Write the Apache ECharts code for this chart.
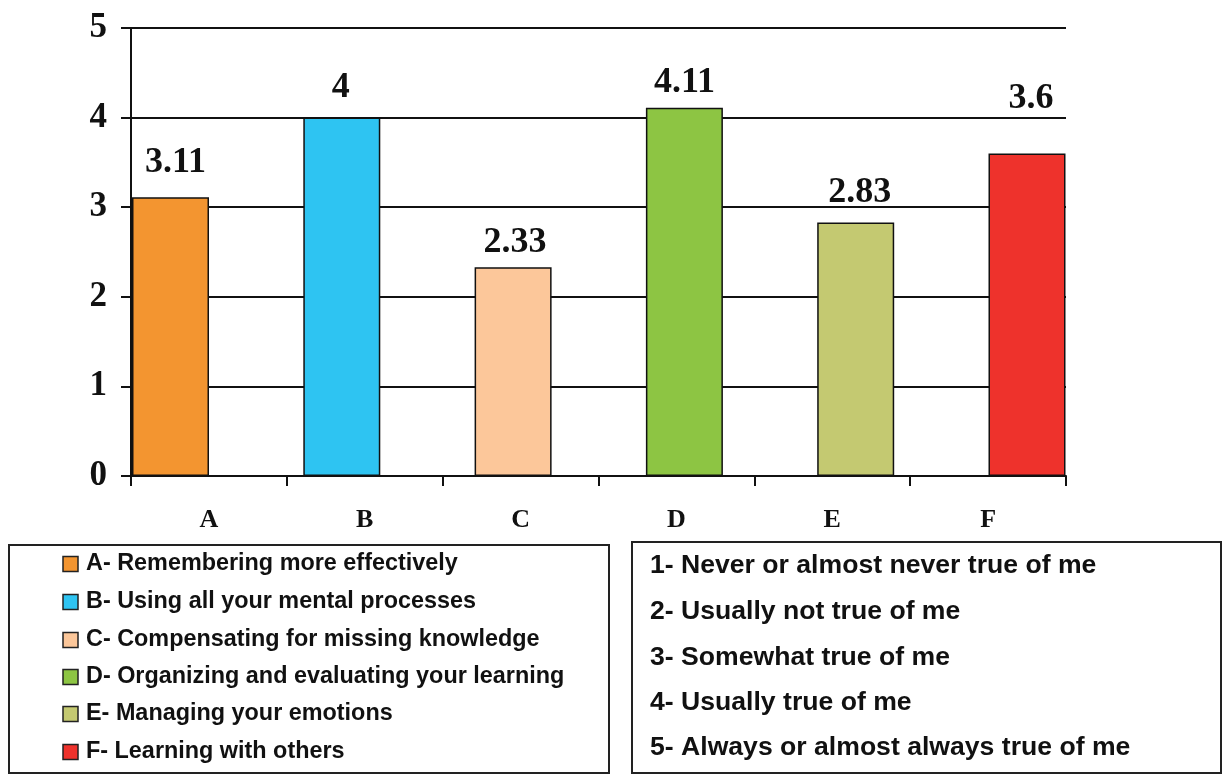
<!DOCTYPE html>
<html><head><meta charset="utf-8">
<script src="https://cdn.jsdelivr.net/npm/echarts@6/dist/echarts.min.js"></script>
<style>html,body{margin:0;padding:0;background:#fff}#c{width:1224px;height:776px}</style>
</head><body><div id="c"></div>
<script>
// ---- data ----
const categories = ['A', 'B', 'C', 'D', 'E', 'F'];
const values = [3.11, 4, 2.33, 4.11, 2.83, 3.6];
const valueLabels = ['3.11', '4', '2.33', '4.11', '2.83', '3.6'];
const yTicks = [0, 1, 2, 3, 4, 5];
const strategyLegend = [
  'A- Remembering more effectively',
  'B- Using all your mental processes',
  'C- Compensating for missing knowledge',
  'D- Organizing and evaluating your learning',
  'E- Managing your emotions',
  'F- Learning with others'
];
const scaleLegend = [
  '1- Never or almost never true of me',
  '2- Usually not true of me',
  '3- Somewhat true of me',
  '4- Usually true of me',
  '5- Always or almost always true of me'
];
// ---- styles ----
const barColors = ['#F39530', '#2EC4F2', '#FCC79A', '#8DC543', '#C4C971', '#EE322C'];
const labelShift = [[5, -4], [-1, 1], [2, 6], [0, 6], [4, 1], [4, -24]];
const leftRows = [564, 602, 640, 677, 714, 752];
const rightRows = [566, 612, 658, 703, 748];

const serif = "'Liberation Serif', 'DejaVu Serif', serif";
const sans = "'Liberation Sans', Arial, sans-serif";
const ink = '#111';

const chart = echarts.init(document.getElementById('c'), null, {renderer: 'canvas'});

const graphics = [];
graphics.push({type: 'rect', shape: {x: 9, y: 545, width: 600, height: 228},
  style: {fill: 'none', stroke: '#222', lineWidth: 2}});
strategyLegend.forEach((t, i) => {
  graphics.push({type: 'rect', shape: {x: 63, y: leftRows[i] - 7.5, width: 15, height: 15},
    style: {fill: barColors[i], stroke: '#222', lineWidth: 1.5}});
  graphics.push({type: 'text', x: 86, y: leftRows[i],
    style: {text: t, fontSize: 23.4, fontWeight: 'bold', fontFamily: sans, fill: ink, verticalAlign: 'middle'}});
});
graphics.push({type: 'rect', shape: {x: 632, y: 542, width: 589, height: 231},
  style: {fill: 'none', stroke: '#222', lineWidth: 2}});
scaleLegend.forEach((t, i) => {
  graphics.push({type: 'text', x: 650, y: rightRows[i],
    style: {text: t, fontSize: 26.6, fontWeight: 'bold', fontFamily: sans, fill: ink, verticalAlign: 'middle'}});
});

chart.setOption({
  animation: false,
  backgroundColor: '#fff',
  grid: [
    {left: 131, right: 158, top: 28, bottom: 300},
    {left: 84.85, right: 111.35, top: 28, bottom: 300}
  ],
  xAxis: [
    {type: 'category', gridIndex: 0, data: categories, boundaryGap: true,
     axisLine: {show: true, lineStyle: {color: ink, width: 2}},
     axisTick: {show: true, length: 10, inside: false, lineStyle: {color: ink, width: 2}},
     axisLabel: {color: ink, fontFamily: serif, fontWeight: 'bold', fontSize: 26, margin: 31},
     splitLine: {show: false}},
    {type: 'category', gridIndex: 1, data: categories, show: false}
  ],
  yAxis: [
    {type: 'value', gridIndex: 0, min: 0, max: 5, interval: 1,
     axisLine: {show: true, lineStyle: {color: ink, width: 2}},
     axisTick: {show: true, length: 10, lineStyle: {color: ink, width: 2}},
     axisLabel: {color: ink, fontFamily: serif, fontWeight: 'bold', fontSize: 35, margin: 24,
       formatter: v => String(yTicks[yTicks.indexOf(v)])},
     splitLine: {show: true, lineStyle: {color: ink, width: 2}}},
    {type: 'value', gridIndex: 1, min: 0, max: 5, interval: 1, show: false,
     splitLine: {show: false}}
  ],
  series: [{
    type: 'bar', xAxisIndex: 1, yAxisIndex: 1, barWidth: 77,
    data: values.map((v, i) => ({
      value: v,
      itemStyle: {color: barColors[i]},
      label: {offset: labelShift[i]}
    })),
    itemStyle: {borderColor: ink, borderWidth: 1.5},
    label: {show: true, position: 'top', distance: 13,
      formatter: p => valueLabels[p.dataIndex],
      color: ink, fontFamily: serif, fontWeight: 'bold', fontSize: 36},
    z: 3
  }],
  graphic: graphics
});
</script>
</body></html>
